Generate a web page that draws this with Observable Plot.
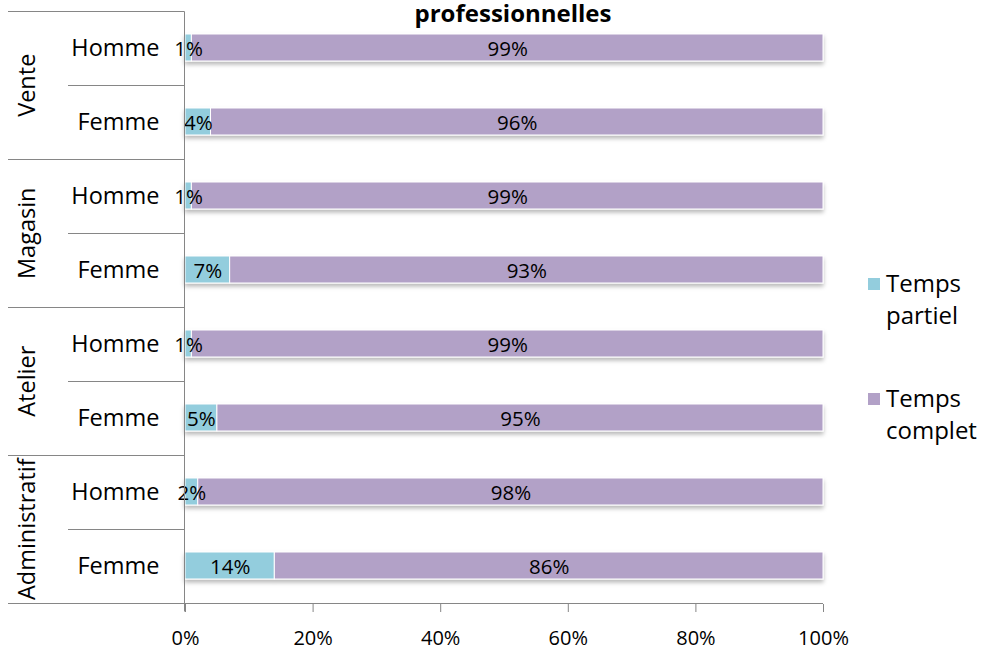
<!DOCTYPE html>
<html><head><meta charset="utf-8">
<script src="https://cdn.jsdelivr.net/npm/d3@7"></script>
<script src="https://cdn.jsdelivr.net/npm/@observablehq/plot@0.6"></script>
<style>
body{margin:0;background:#fff;font-family:"Open Sans",sans-serif;}
#wrap{position:relative;width:986px;height:652px;overflow:hidden;}
.sw{position:absolute;width:12px;height:12px;}
.lab{position:absolute;font-size:24px;line-height:32px;color:#000;white-space:nowrap;}
</style></head><body><div id="wrap"></div>
<script>
const groups = ["Vente", "Magasin", "Atelier", "Administratif"];
const sexes = ["Homme", "Femme"];
const series = ["Temps partiel", "Temps complet"];
const legendLines = [["Temps", "partiel"], ["Temps", "complet"]];
const partiel = [1, 4, 1, 7, 1, 5, 2, 14];
const complet = [99, 96, 99, 93, 99, 95, 98, 86];
const xTicks = [0, 20, 40, 60, 80, 100];
const colors = ["#93CDDD", "#B2A1C7"];
const title = "professionnelles";

const rowKeys = groups.flatMap(g => sexes.map(s => g + "|" + s));
const rows = rowKeys.map(k => ({row: k, sex: k.split("|")[1]}));
const data = rowKeys.flatMap((k, i) => [
  {row: k, series: series[0], value: partiel[i]},
  {row: k, series: series[1], value: complet[i]}
]);

const W = 986, H = 652, mL = 185, mR = 163, mT = 8, mB = 48;
const step = (H - mT - mB) / rowKeys.length;

const plot = Plot.plot({
  width: W, height: H,
  marginLeft: mL, marginRight: mR, marginTop: mT, marginBottom: mB,
  style: {fontFamily: "Open Sans, sans-serif", fontSize: "20px", color: "#000", background: "#fff"},
  x: {domain: [0, 100], axis: null},
  y: {domain: rowKeys, paddingInner: 0.64, paddingOuter: 0.32, axis: null},
  color: {domain: series, range: colors},
  marks: [
    Plot.barX(data, Plot.stackX({x: "value", y: "row", fill: "series", stroke: "white", strokeWidth: 1})),
    Plot.text(data, Plot.stackX({x: "value", y: "row", text: d => d.value + "%", fontSize: 20.5, fill: "#000", dy: 1})),
    Plot.axisX({ticks: xTicks, tickFormat: d => d + "%", tickSize: 8, tickPadding: 18, stroke: "#868686", fill: "#000", fontSize: 20, label: null}),
    Plot.text(rows, {y: "row", text: "sex", frameAnchor: "left", textAnchor: "end", dx: -26, fontSize: 23.5, fill: "#000"}),
    Plot.text(groups, {y: d => d + "|" + sexes[0], text: d => d, frameAnchor: "left", dx: -158, dy: step / 2, rotate: -90, textAnchor: "middle", fontSize: 23.5, fill: "#000"}),
    Plot.text([title], {text: d => d, frameAnchor: "top", lineAnchor: "bottom", dx: 8.5, dy: 13, fontSize: 24, fontWeight: "bold", fill: "#000"})
  ]
});
const wrap = document.getElementById("wrap");
wrap.append(plot);

const svg = d3.select(plot);
svg.append("defs").html('<filter id="sh" x="-5%" y="-30%" width="110%" height="180%"><feDropShadow dx="0" dy="3" stdDeviation="2" flood-color="#000" flood-opacity="0.28"/></filter>');
svg.select('g[aria-label="bar"]').attr("filter", "url(#sh)");

const ys = plot.scale("y"), xs = plot.scale("x");
const gap = (ys.step - ys.bandwidth) / 2;
const ax = Math.round(xs.apply(0)) - 0.5;
const lg = svg.append("g").attr("stroke", "#868686").attr("stroke-width", 1);
const hline = (x1, x2, yy) => lg.append("line").attr("x1", x1).attr("x2", x2).attr("y1", Math.round(yy) + 0.5).attr("y2", Math.round(yy) + 0.5);
groups.forEach(g => {
  hline(8, ax, ys.apply(g + "|" + sexes[0]) - gap);
  hline(68, ax, ys.apply(g + "|" + sexes[1]) - gap);
});
const yBottom = ys.apply(rowKeys[rowKeys.length - 1]) + ys.bandwidth + gap;
hline(8, xs.apply(100), yBottom);
const yTop = ys.apply(rowKeys[0]) - gap;
lg.append("line").attr("x1", ax).attr("x2", ax).attr("y1", Math.round(yTop) + 0.5).attr("y2", Math.round(yBottom) + 8.5);

// legend
const legTops = [267, 382];
series.forEach((s, i) => {
  const sw = document.createElement("div");
  sw.className = "sw"; sw.style.background = colors[i];
  sw.style.left = "868px"; sw.style.top = (legTops[i] + 11) + "px";
  wrap.append(sw);
  const lab = document.createElement("div");
  lab.className = "lab"; lab.style.left = "886px"; lab.style.top = legTops[i] + "px";
  lab.innerHTML = legendLines[i].join("<br>");
  wrap.append(lab);
});
</script></body></html>
